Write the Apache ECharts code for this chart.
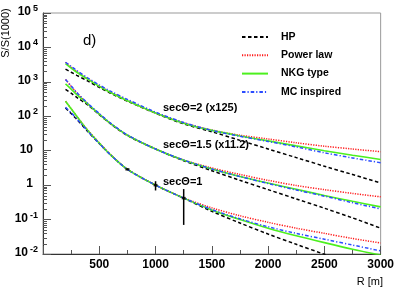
<!DOCTYPE html>
<html>
<head>
<meta charset="utf-8">
<script src="https://cdn.jsdelivr.net/npm/echarts@6/dist/echarts.min.js"></script>
<style>
html,body{margin:0;padding:0;background:#fff;}
#c{width:397px;height:288px;}
</style>
</head>
<body>
<div id="c"></div>
<script>
// Distance from shower core R [m]
const R = [200, 250, 300, 400, 500, 600, 750, 1000, 1250, 1500, 1750, 2000, 2250, 2500, 2750, 3000];

// secTheta = 1 (x1)
const hp1  = [174, 120, 81.3, 35.5, 16.2, 7.59, 2.88, 1, 0.417, 0.174, 0.0794, 0.0380, 0.0191, 0.0098, 0.0050, 0.0026];
const pow1 = [275, 166, 100, 38.9, 17.0, 7.76, 2.88, 1, 0.427, 0.219, 0.129, 0.0832, 0.0562, 0.0398, 0.0282, 0.0209];
const nkg1 = [275, 166, 100, 38.0, 16.6, 7.59, 2.88, 1, 0.420, 0.191, 0.100, 0.0562, 0.0339, 0.0214, 0.0138, 0.0093];
const mc1  = [182, 126, 85.1, 36.3, 16.2, 7.59, 2.88, 1, 0.422, 0.195, 0.105, 0.0617, 0.0398, 0.0269, 0.0182, 0.0123];

// secTheta = 1.5 (x11.2)
const hp2  = [603, 468, 355, 209, 112, 60.3, 27.5, 11.2, 5.13, 2.63, 1.38, 0.741, 0.398, 0.214, 0.112, 0.0562];
const pow2 = [1175, 741, 479, 224, 115, 61.7, 28.2, 11.2, 5.37, 3.16, 2.04, 1.38, 0.977, 0.741, 0.575, 0.457];
const nkg2 = [871, 617, 427, 224, 115, 61.7, 28.2, 11.2, 5.25, 2.95, 1.78, 1.15, 0.759, 0.501, 0.339, 0.234];
const mc2  = [1175, 759, 490, 234, 120, 63.1, 28.8, 11.2, 5.37, 2.95, 1.78, 1.12, 0.724, 0.479, 0.309, 0.204];

// secTheta = 2 (x125)
const hp3  = [2344, 1905, 1549, 1047, 692, 468, 275, 123, 60.3, 35.5, 20.0, 11.2, 6.31, 3.55, 2.04, 1.15];
const pow3 = [3715, 2692, 1995, 1202, 759, 501, 288, 125, 64.6, 39.8, 28.2, 21.9, 17.0, 13.5, 11.2, 9.33];
const nkg3 = [3388, 2512, 1905, 1175, 741, 490, 282, 125, 63.1, 38.9, 26.9, 19.3, 13.8, 10.0, 7.41, 5.57];
const mc3  = [3715, 2818, 2138, 1288, 813, 537, 309, 132, 66.1, 38.9, 26.3, 18.6, 12.9, 8.71, 6.17, 4.47];

// measured points (secTheta = 1): R, value, low, high
const ptR   = [750, 1000, 1250];
const ptVal = [2.88, 1.0, 0.42];
const ptLo  = [2.80, 0.70, 0.07];
const ptHi  = [2.96, 1.30, 0.77];

const yDecades = [-2, -1, 0, 1, 2, 3, 4, 5];
const minorMult = [2, 3, 4, 5, 6, 7, 8, 9];

const FONT = '"Liberation Sans", Arial, Helvetica, sans-serif';

const styles = {
  'HP':          { color: '#000000', type: [3.5, 2.5], width: 1.5 },
  'Power law':   { color: '#ff1a1a', type: [1.2, 1.3], width: 1.5 },
  'NKG type':    { color: '#4cf01e', type: 'solid', width: 1.6 },
  'MC inspired': { color: '#2b4cff', type: [3.5, 2, 1.2, 2], width: 1.5 }
};

function pairs(arr) { return R.map((r, i) => [r, arr[i]]); }

function lineSeries(name, arr) {
  const s = styles[name];
  return {
    name: name, type: 'line', data: pairs(arr), smooth: 0.3,
    symbol: 'none', showSymbol: false, clip: true,
    lineStyle: { color: s.color, type: s.type, width: s.width },
    itemStyle: { color: s.color },
    emphasis: { disabled: true }, z: 3
  };
}

const minorData = [];
yDecades.slice(0, -1).forEach(d => minorMult.forEach(m => minorData.push([0, m * Math.pow(10, d)])));

const series = [
  lineSeries('HP', hp1), lineSeries('Power law', pow1), lineSeries('NKG type', nkg1), lineSeries('MC inspired', mc1),
  lineSeries('HP', hp2), lineSeries('Power law', pow2), lineSeries('NKG type', nkg2), lineSeries('MC inspired', mc2),
  lineSeries('HP', hp3), lineSeries('Power law', pow3), lineSeries('NKG type', nkg3), lineSeries('MC inspired', mc3),
  {
    type: 'custom', name: 'err', z: 5,
    data: ptR.map((r, i) => [r, ptLo[i], ptHi[i]]),
    encode: { x: 0, y: [1, 2] },
    renderItem: function (params, api) {
      const a = api.coord([api.value(0), api.value(1)]);
      const b = api.coord([api.value(0), api.value(2)]);
      return { type: 'line', shape: { x1: a[0], y1: a[1], x2: b[0], y2: b[1] },
               style: { stroke: '#000', lineWidth: 1.5 } };
    }
  },
  {
    type: 'scatter', name: 'pts', z: 6,
    data: ptR.map((r, i) => [r, ptVal[i]]),
    symbol: 'rect', symbolSize: [4, 2.5], itemStyle: { color: '#000' }
  },
  {
    type: 'custom', name: 'minor', z: 4, silent: true,
    data: minorData, encode: { x: 0, y: 1 },
    renderItem: function (params, api) {
      const p = api.coord([api.value(0), api.value(1)]);
      return { type: 'line', shape: { x1: p[0], y1: Math.round(p[1]) + 0.5, x2: p[0] + 4, y2: Math.round(p[1]) + 0.5 },
               style: { stroke: '#555', lineWidth: 1 } };
    }
  }
];

const chart = echarts.init(document.getElementById('c'), null, { renderer: 'canvas' });
chart.setOption({
  animation: false,
  backgroundColor: '#ffffff',
  textStyle: { fontFamily: FONT },
  grid: { left: 43, right: 13, top: 10, bottom: 34, show: true, borderColor: '#999', borderWidth: 1 },
  legend: {
    data: ['HP', 'Power law', 'NKG type', 'MC inspired'],
    orient: 'vertical', left: 236, top: 25,
    itemWidth: 26, itemHeight: 10, itemGap: 4.3,
    itemStyle: { opacity: 0 },
    textStyle: { fontFamily: FONT, fontWeight: 'bold', fontSize: 10.5, color: '#000', padding: [0, 0, 0, 8], lineHeight: 14 },
    selectedMode: false
  },
  xAxis: {
    type: 'value', min: 0, max: 3000, interval: 500,
    axisLine: { lineStyle: { color: '#333', width: 1 } },
    axisTick: { inside: true, length: 8, lineStyle: { color: '#555' } },
    minorTick: { show: true, splitNumber: 2, length: 4, lineStyle: { color: '#555' } },
    splitLine: { show: false },
    axisLabel: {
      margin: 5, color: '#000', fontFamily: FONT, fontWeight: 'bold', fontSize: 12,
      formatter: v => (v === 0 ? '' : String(v))
    }
  },
  yAxis: {
    type: 'log', logBase: 10, min: 0.01, max: 100000,
    axisLine: { lineStyle: { color: '#333', width: 1 } },
    axisTick: { inside: true, length: 8, lineStyle: { color: '#555' } },
    splitLine: { show: false },
    axisLabel: {
      margin: 5, color: '#000', fontFamily: FONT, fontWeight: 'bold', align: 'right',
      padding: [0, 0, 4, 0],
      formatter: function (v) {
        const e = Math.round(Math.log10(v));
        if (e === 0) return '{c|1}{s| }';
        if (e === 1) return '{c|10}{s| }';
        return '{b|10}{e|' + e + '}';
      },
      rich: {
        b: { fontFamily: FONT, fontWeight: 'bold', fontSize: 12, lineHeight: 14, verticalAlign: 'bottom', padding: [6, 0, 0, 0] },
        c: { fontFamily: FONT, fontWeight: 'bold', fontSize: 12, lineHeight: 14, verticalAlign: 'bottom', padding: [4, 0, 0, 0] },
        e: { fontFamily: FONT, fontWeight: 'bold', fontSize: 9, lineHeight: 9, verticalAlign: 'top', padding: [0, 0, 0, 2] },
        s: { fontFamily: FONT, fontSize: 9, width: 5, lineHeight: 9 }
      }
    }
  },
  graphic: [
    { type: 'text', x: 6, y: 33, rotation: Math.PI / 2, z: 10,
      style: { text: 'S/S(1000)', font: '11px ' + FONT, fill: '#000', align: 'center', verticalAlign: 'middle' } },
    { type: 'text', x: 383, y: 282, z: 10,
      style: { text: 'R [m]', font: '11px ' + FONT, fill: '#000', align: 'right', verticalAlign: 'middle' } },
    { type: 'text', x: 83, y: 41, z: 10,
      style: { text: 'd)', font: '15px ' + FONT, fill: '#000', align: 'left', verticalAlign: 'middle' } },
    { type: 'text', x: 163, y: 108, z: 10,
      style: { text: 'secΘ=2 (x125)', font: 'bold 11px ' + FONT, fill: '#000', align: 'left', verticalAlign: 'middle' } },
    { type: 'text', x: 163, y: 145, z: 10,
      style: { text: 'secΘ=1.5 (x11.2)', font: 'bold 11px ' + FONT, fill: '#000', align: 'left', verticalAlign: 'middle' } },
    { type: 'text', x: 163, y: 182, z: 10,
      style: { text: 'secΘ=1', font: 'bold 11px ' + FONT, fill: '#000', align: 'left', verticalAlign: 'middle' } }
  ],
  series: series
});
</script>
</body>
</html>
